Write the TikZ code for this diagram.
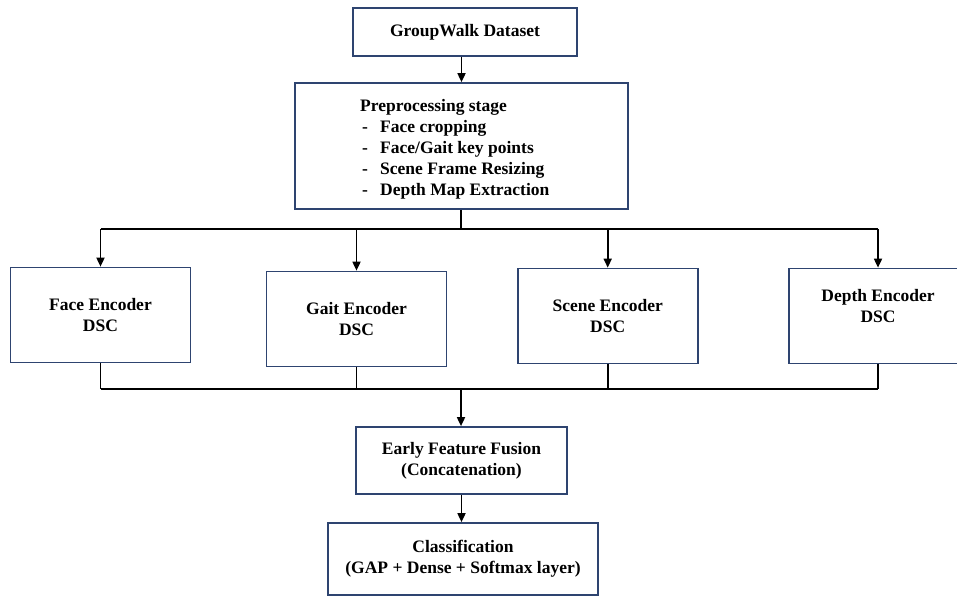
\documentclass[tikz,border=0pt]{standalone}
\usepackage{fontspec}
\setmainfont{Liberation Serif}
\usetikzlibrary{arrows.meta}
\definecolor{boxblue}{HTML}{2E4470}
\begin{document}
\begin{tikzpicture}[x=1pt,y=-1pt,
  every node/.style={font=\fontsize{17.5}{21}\selectfont\bfseries},
  box/.style={draw=boxblue,line width=1.7pt,inner sep=0pt,align=center,fill=none},
  conn/.style={line width=1.7pt,black},
  arr/.style={conn,-{Triangle[length=9pt,width=8pt]}}]
\useasboundingbox (0,0) rectangle (957,599);
% boxes
\node[box,minimum width=224pt,minimum height=48pt] (ds) at (465,32) {GroupWalk Dataset};
\node[box,minimum width=333pt,minimum height=126pt] (pre) at (461.5,146) {};
\node[anchor=base west,align=left,inner sep=0pt] (pretext) at (360,195)
  {Preprocessing stage\\
   \hspace*{2pt}\makebox[18pt][l]{-}Face cropping\\
   \hspace*{2pt}\makebox[18pt][l]{-}Face/Gait key points\\
   \hspace*{2pt}\makebox[18pt][l]{-}Scene Frame Resizing\\
   \hspace*{2pt}\makebox[18pt][l]{-}Depth Map Extraction};
\node[box,minimum width=180pt,minimum height=95pt] (face) at (100.5,315) {Face Encoder\\DSC};
\node[box,minimum width=180pt,minimum height=95pt] (gait) at (356.5,319) {Gait Encoder\\DSC};
\node[box,minimum width=180pt,minimum height=95pt] (scene) at (607.7,316) {Scene Encoder\\DSC};
\node[box,minimum width=178pt,minimum height=95pt] (depth) at (878,316) {};
\node[align=center,inner sep=0pt] (depthtext) at (878,306) {Depth Encoder\\DSC};
\node[box,minimum width=211pt,minimum height=67pt] (fusion) at (461.5,460.5) {Early Feature Fusion\\(Concatenation)};
\node[box,minimum width=270pt,minimum height=72pt] (cls) at (463,559) {Classification\\(GAP + Dense + Softmax layer)};
% coordinates of the buses
\coordinate (tm) at (461,229);
\coordinate (t1) at (100.5,229);
\coordinate (t4) at (878,229);
\coordinate (bm) at (461,389);
\coordinate (b1) at (100.5,389);
\coordinate (b4) at (878,389);
% connectors
\draw[arr] (ds.south -| pre.north) -- (pre.north);
\draw[conn] (pre.south -| tm) -- (tm);
\draw[conn] (t1) -- (t4);
\draw[arr] (t1) -- (face.north);
\draw[arr] (t1 -| gait.north) -- (gait.north);
\draw[arr] (t1 -| scene.north) -- (scene.north);
\draw[arr] (t4) -- (depth.north);
\draw[conn] (face.south) -- (b1);
\draw[conn] (gait.south) -- (b1 -| gait.south);
\draw[conn] (scene.south) -- (b1 -| scene.south);
\draw[conn] (depth.south) -- (b4);
\draw[conn] (b1) -- (b4);
\draw[arr] (bm) -- (bm |- fusion.north);
\draw[arr] (fusion.south) -- (fusion.south |- cls.north);
\end{tikzpicture}
\end{document}
